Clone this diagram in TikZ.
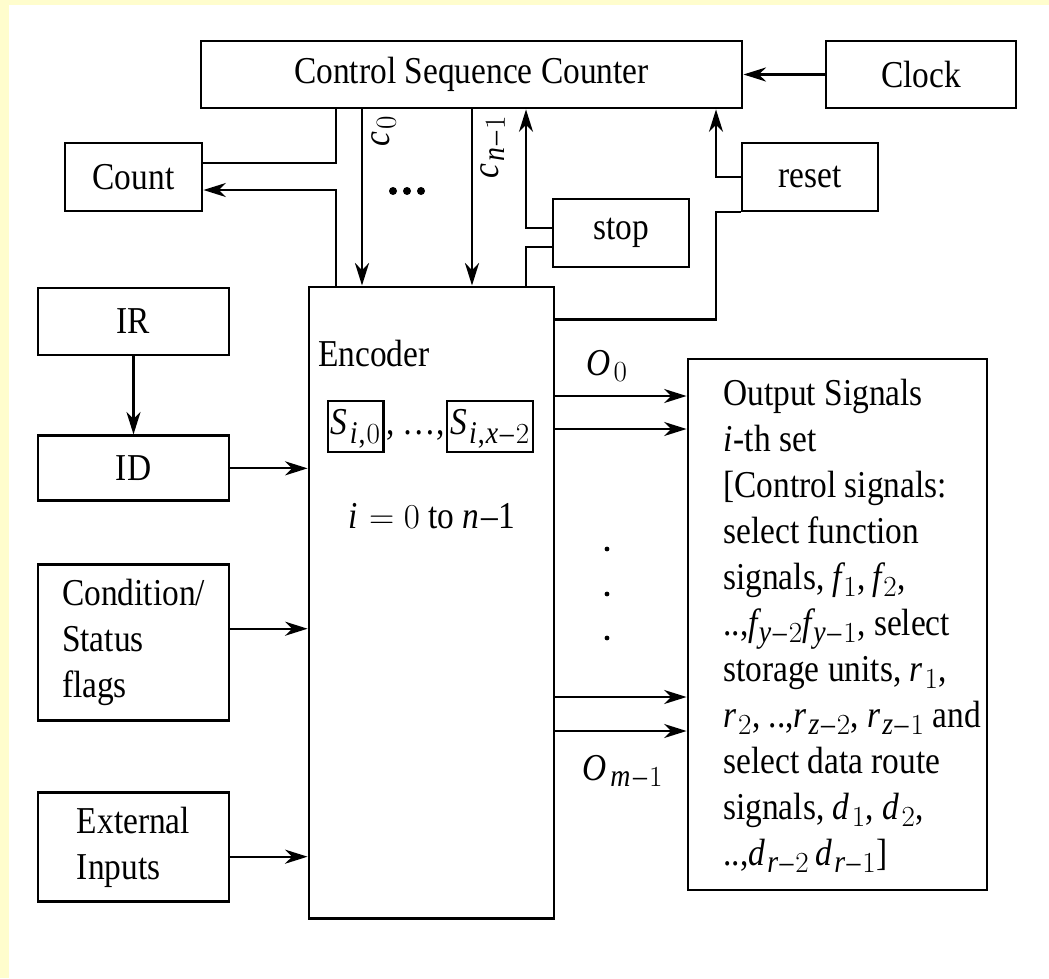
\documentclass[tikz,border=0pt]{standalone}
\usepackage{fontspec}
\setmainfont{Liberation Serif}[FakeStretch=0.88]
\usepackage[italic]{mathastext}
\usetikzlibrary{arrows.meta,positioning}

\definecolor{pageyellow}{RGB}{255,253,205}

\tikzset{
  blk/.style={draw, line width=2pt, inner sep=0pt, align=center},
  sbox/.style={draw, line width=1.5pt, inner xsep=2pt, inner ysep=2pt, text height=22pt, text depth=10pt},
  wire/.style={line width=1.5pt},
  arr/.style={wire, -{Stealth[length=16pt,width=10pt,inset=5pt]}},
}

\begin{document}
\begin{tikzpicture}[x=0.025cm, y=-0.025cm, font=\fontsize{27}{32.7}\selectfont]
		% page background
		\fill[pageyellow] (0,0) rectangle (1049,978);
		\fill[white] (9,5) rectangle (1049,978);

		% Define nodes
		\node[blk, minimum width=13.525cm, minimum height=1.675cm] (csc) at (471.5,74.5) {Control Sequence Counter};
		\node[blk, minimum width=4.75cm, minimum height=1.675cm, right=2.025cm of csc] (clock) {Clock};
		\node[blk, minimum width=3.425cm, minimum height=1.7cm] (count) at (133.5,177) {Count};
		\node[blk, minimum width=3.4cm, minimum height=1.7cm] (reset) at (810,177) {reset};
		\node[blk, minimum width=3.4cm, minimum height=1.7cm] (stop) at (621,233) {stop};
		\node[blk, minimum width=4.775cm, minimum height=1.675cm] (ir) at (133.5,321.5) {IR};
		\node[blk, minimum width=4.775cm, minimum height=1.625cm, below=1.95cm of ir] (id) {ID};
		\node[blk, minimum width=4.775cm, minimum height=3.9cm, below=1.525cm of id, align=left] (cond) {Condition/\\Status\\flags};
		\node[blk, minimum width=4.775cm, minimum height=2.725cm, below=1.725cm of cond, align=left] (ext) {External\\Inputs};
		\node[blk, minimum width=6.125cm, minimum height=15.775cm] (enc) at (431.5,602.5) {};
		\node[blk, minimum width=7.475cm, minimum height=13.275cm] (out) at (837.5,624.5) {};

		% inside the encoder
		\node[anchor=base west, inner sep=0pt] (enctxt) at (318,366) {Encoder};
		\node[sbox, anchor=west] (s0) at (327,426.5) {$S_{i,0}$};
		\node[anchor=base west, inner sep=1pt] (sdots) at (s0.base east) {, \ldots,};
		\node[sbox, anchor=base west] (sx) at (sdots.base east) {$S_{i,x-2}$};
		\node[anchor=base] (irange) at (432,528) {$i = 0$ to $n$--1};

		% inside the output box
		\node[anchor=north west, align=left, inner sep=0pt] (outtxt) at (723,379) {Output Signals\\
			$i$-th set\\
			{[}Control signals:\\
			select function\\
			signals, $f_1, f_2$,\\
			..,$f_{y-2}f_{y-1}$, select\\
			storage units, $r_1$,\\
			$r_2$, ..,$r_{z-2}$, $r_{z-1}$ and\\
			select data route\\
			signals, $d_1$, $d_2$,\\
			..,$d_{r-2}\,d_{r-1}${]}};

		% taps on the counter
		\coordinate (xcnt) at (336,0);
		\coordinate (xc0) at (362,0);
		\coordinate (xcn) at (472,0);
		\coordinate (xstop) at (526,0);
		\coordinate (xrst) at (716,0);

		% Connect the nodes
		\draw[arr] (clock) -- (csc);
		\draw[wire] (csc.south -| xcnt) |- ([yshift=0.35cm]count.east);
		\draw[arr] (enc.north -| xcnt) |- ([yshift=-0.325cm]count.east);
		\draw[arr] (csc.south -| xc0) -- (enc.north -| xc0);
		\draw[arr] (csc.south -| xcn) -- (enc.north -| xcn);
		\draw[arr] ([yshift=0.125cm]stop.west) -| (csc.south -| xstop);
		\draw[wire] (enc.north -| xstop) |- ([yshift=-0.35cm]stop.west);
		\draw[arr] (reset.west) -| (csc.south -| xrst);
		\draw[wire] ([yshift=-0.85cm]enc.north east) -| (reset.south west -| xrst) -- (reset.south west);

		\path (csc.south -| xc0) ++(9,6) node[rotate=90, anchor=north east, inner sep=0pt] (c0lbl) {$c_0$};
		\path (csc.south -| xcn) ++(8,6) node[rotate=90, anchor=north east, inner sep=0pt] (cnlbl) {$c_{n-1}$};
		\foreach \x in {393,407,421}
			\fill (\x,191) circle (0.1cm);

		\draw[arr] (ir) -- (id);
		\draw[arr] (id.east) -- (id.east -| enc.west);
		\draw[arr] ([yshift=0.35cm]cond.east) -- ([yshift=0.35cm]cond.east -| enc.west);
		\draw[arr] ([yshift=-0.24cm]ext.east) -- ([yshift=-0.24cm]ext.east -| enc.west);

		\foreach \n/\y in {a/396,b/429,c/697,d/731}
			\coordinate (o\n) at (0,\y);
		\foreach \n in {a,b,c,d}
			\draw[arr] (enc.east |- o\n) -- (out.west |- o\n);
		\node[anchor=base] (o0lbl) at (607,375) {$O_0$};
		\node[anchor=base] (omlbl) at (623,780) {$O_{m-1}$};
		\foreach \y in {549,594,638}
			\fill (607,\y) circle (0.06cm);
	\end{tikzpicture}
\end{document}
